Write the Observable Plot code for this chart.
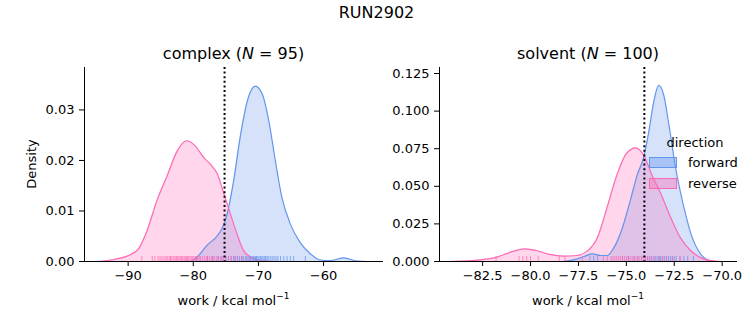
<!DOCTYPE html>
<html><head><meta charset="utf-8">
<script src="https://cdn.jsdelivr.net/npm/d3@7"></script>
<script src="https://cdn.jsdelivr.net/npm/@observablehq/plot@0.6"></script>
<style>
body{margin:0;background:#fff;}
#wrap{position:relative;width:753px;height:325px;font-family:"DejaVu Sans",sans-serif;color:#000;overflow:hidden;background:#fff}
#wrap svg{position:absolute;left:0;top:0}
.t{position:absolute;white-space:nowrap;transform:translate(-50%,-50%);line-height:1}
.l{position:absolute;white-space:nowrap;transform:translate(0,-50%);line-height:1;font-size:13px}
.sw{position:absolute;box-sizing:border-box;width:28px;height:11px;border:1px solid}
sup{font-size:9px;vertical-align:0;position:relative;top:-6px}
</style></head><body><div id="wrap"></div>
<script>
// ---- data ----
const title = "RUN2902";
const panels = ["complex", "solvent"];
const counts = [95, 100];
const directions = ["forward", "reverse"];
const meanLines = [-75.2, -74.06];

// complex KDE curves (work, density)
const complexForwardX = [-80.4, -79.4, -77.9, -76.3, -75.6, -74.8, -73.8, -72.8, -71.7, -70.5, -69.4, -68.4, -67.4, -66.4, -65.1, -63.6, -62.0, -60.5, -59.0, -56.9, -54.9, -53.3];
const complexForwardD = [0, 0.0009, 0.0032, 0.0051, 0.0065, 0.0094, 0.016, 0.0246, 0.0318, 0.0347, 0.0331, 0.0278, 0.0199, 0.0127, 0.0074, 0.0038, 0.0015, 0.0003, 0.0002, 0.0007, 0.0001, 0];
const complexReverseX = [-94.5, -92.2, -89.6, -88.4, -87.1, -85.6, -84.0, -82.5, -81.0, -79.7, -78.4, -77.4, -76.3, -75.3, -74.3, -73.3, -72.3, -71.2, -69.7, -67.7];
const complexReverseD = [0, 0.0004, 0.0014, 0.0025, 0.0061, 0.012, 0.017, 0.0218, 0.0239, 0.0229, 0.0206, 0.0193, 0.0173, 0.0134, 0.0094, 0.0055, 0.0022, 0.0009, 0.0002, 0];

// solvent KDE curves
const solventForwardX = [-78.3, -77.75, -77.2, -76.8, -76.35, -76.0, -75.66, -75.22, -74.79, -74.44, -74.09, -73.83, -73.57, -73.31, -73.05, -72.79, -72.44, -72.0, -71.57, -71.13, -70.78, -70.4];
const solventForwardD = [0, 0.0011, 0.0033, 0.0051, 0.004, 0.004, 0.0089, 0.0218, 0.0407, 0.0573, 0.0696, 0.0862, 0.1062, 0.1171, 0.1107, 0.0918, 0.0629, 0.0362, 0.0162, 0.0051, 0.0011, 0];
const solventReverseX = [-84.2, -82.6, -81.75, -81.05, -80.3, -79.7, -79.0, -78.3, -77.6, -77.05, -76.5, -76.0, -75.5, -75.0, -74.5, -74.1, -73.66, -73.2, -72.7, -72.2, -71.65, -71.1, -70.4, -69.9];
const solventReverseD = [0, 0.0011, 0.0029, 0.0062, 0.0084, 0.0073, 0.0047, 0.0036, 0.004, 0.0069, 0.0162, 0.0362, 0.0573, 0.0718, 0.0756, 0.0707, 0.0573, 0.0451, 0.0296, 0.0162, 0.0073, 0.0024, 0.0002, 0];

// rug samples (work values)
const complexForwardRug = [-79.5, -77.8, -77.0, -76.2, -75.6, -75.0, -74.6, -74.2, -73.8, -73.5, -73.2, -72.9, -72.6, -72.3, -72.0, -71.8, -71.6, -71.4, -71.2, -71.0, -70.8, -70.7, -70.5, -70.4, -70.3, -70.1, -69.9, -69.7, -69.5, -69.3, -69.1, -68.9, -68.7, -68.5, -68.2, -67.9, -67.6, -67.3, -67.0, -66.6, -66.1, -65.6, -65.1, -64.6, -62.8];
const complexReverseRug = [-87.9, -86.3, -85.9, -85.4, -85.1, -84.8, -84.5, -84.2, -84.0, -83.7, -83.5, -83.3, -83.0, -82.8, -82.6, -82.4, -82.2, -82.0, -81.8, -81.6, -81.4, -81.2, -81.0, -80.9, -80.7, -80.5, -80.3, -80.1, -79.9, -79.7, -79.5, -79.3, -79.1, -78.9, -78.6, -78.3, -78.0, -77.8, -77.5, -77.2, -77.0, -76.7, -76.4, -76.1, -75.8, -75.4, -75.0, -74.6, -74.2, -73.7, -73.2, -72.5, -71.3];
const solventForwardRug = [-76.9, -76.7, -76.5, -75.2, -74.9, -74.6, -74.4, -74.2, -74.0, -73.9, -73.8, -73.7, -73.6, -73.5, -73.4, -73.3, -73.25, -73.2, -73.1, -73.0, -72.9, -72.8, -72.7, -72.6, -72.5, -72.4, -72.2, -72.0, -71.8, -71.5];
const solventReverseRug = [-81.8, -80.6, -80.4, -80.2, -80.0, -79.6, -78.5, -78.2, -77.3, -76.2, -76.0, -75.8, -75.7, -75.6, -75.5, -75.4, -75.3, -75.2, -75.1, -75.0, -74.9, -74.8, -74.7, -74.6, -74.5, -74.4, -74.3, -74.2, -74.1, -74.0, -73.9, -73.8, -73.7, -73.5, -73.3, -73.1, -72.9, -72.6, -72.2];

// axis ticks
const complexXTicks = [-90, -80, -70, -60];
const complexYTicks = [0, 0.01, 0.02, 0.03];
const solventXTicks = [-82.5, -80.0, -77.5, -75.0, -72.5, -70.0];
const solventYTicks = [0, 0.025, 0.05, 0.075, 0.1, 0.125];

// ---- chart ----
const W = 753, H = 325;
const colors = {forward: "cornflowerblue", reverse: "hotpink"};
const wrap = document.getElementById("wrap");

function panel(o) {
  const fwd = o.fX.map((x, i) => ({x, d: o.fD[i]}));
  const rev = o.rX.map((x, i) => ({x, d: o.rD[i]}));
  const svg = Plot.plot({
    width: W, height: H,
    marginLeft: o.mL, marginRight: o.mR, marginTop: 67, marginBottom: 64,
    style: {background: "transparent", fontFamily: "'DejaVu Sans', sans-serif", fontSize: "13px", color: "#000", overflow: "visible"},
    x: {domain: o.xDomain, ticks: o.xTicks, tickFormat: o.xFmt, label: null, tickSize: 5, tickPadding: 4},
    y: {domain: o.yDomain, ticks: o.yTicks, tickFormat: o.yFmt, label: null, tickSize: 5, tickPadding: 5},
    marks: [
      Plot.areaY(fwd, {x: "x", y: "d", fill: colors.forward, fillOpacity: 0.27, curve: "monotone-x"}),
      Plot.areaY(rev, {x: "x", y: "d", fill: colors.reverse, fillOpacity: 0.27, curve: "monotone-x"}),
      Plot.lineY(fwd, {x: "x", y: "d", stroke: colors.forward, strokeWidth: 1.2, curve: "monotone-x"}),
      Plot.lineY(rev, {x: "x", y: "d", stroke: colors.reverse, strokeWidth: 1.2, curve: "monotone-x"}),
      Plot.tickX(o.fRug, {x: d => d, stroke: colors.forward, insetTop: 189, strokeOpacity: 0.75}),
      Plot.tickX(o.rRug, {x: d => d, stroke: colors.reverse, insetTop: 189, strokeOpacity: 0.75}),
      Plot.ruleX([o.mean], {stroke: "#000", strokeWidth: 2, strokeDasharray: "2,2.6"}),
      Plot.ruleY([o.yDomain[0]], {stroke: "#000", strokeWidth: 1}),
      Plot.ruleX([o.xDomain[0]], {stroke: "#000", strokeWidth: 1})
    ]
  });
  wrap.appendChild(svg);
}

panel({xDomain: [-96.7, -50.8], yDomain: [0, 0.0384], xTicks: complexXTicks, yTicks: complexYTicks,
  xFmt: d3.format("d"), yFmt: d3.format(".2f"), mL: 84, mR: W - 383,
  fX: complexForwardX, fD: complexForwardD, rX: complexReverseX, rD: complexReverseD,
  fRug: complexForwardRug, rRug: complexReverseRug, mean: meanLines[0]});
panel({xDomain: [-84.75, -69.2], yDomain: [0, 0.129], xTicks: solventXTicks, yTicks: solventYTicks,
  xFmt: d3.format(".1f"), yFmt: d3.format(".3f"), mL: 439, mR: W - 737,
  fX: solventForwardX, fD: solventForwardD, rX: solventReverseX, rD: solventReverseD,
  fRug: solventForwardRug, rRug: solventReverseRug, mean: meanLines[1]});

function txt(html, x, y, size, cls = "t", extra = "") {
  const d = document.createElement("div");
  d.className = cls;
  d.style.left = x + "px"; d.style.top = y + "px"; d.style.fontSize = size + "px";
  if (extra) d.style.cssText += extra;
  d.innerHTML = html;
  wrap.appendChild(d);
  return d;
}
txt(title, 376.5, 13, 16);
txt(`${panels[0]} (<i>N</i> = ${counts[0]})`, 233.5, 54, 16);
txt(`${panels[1]} (<i>N</i> = ${counts[1]})`, 588, 54, 16);
txt("work / kcal mol<sup>−1</sup>", 233.5, 300, 13);
txt("work / kcal mol<sup>−1</sup>", 588, 300, 13);
txt("Density", 31, 164, 13, "t", "transform:translate(-50%,-50%) rotate(-90deg);");

// legend
txt("direction", 695, 142, 13);
directions.forEach((k, i) => {
  const y = 162 + i * 21;
  const s = document.createElement("div");
  s.className = "sw";
  s.style.left = "649px"; s.style.top = (y - 5.5) + "px";
  s.style.borderColor = colors[k];
  s.style.background = d3.color(colors[k]).copy({opacity: 0.4}).toString();
  wrap.appendChild(s);
  txt(k, 688, y, 13, "l");
});
</script></body></html>
